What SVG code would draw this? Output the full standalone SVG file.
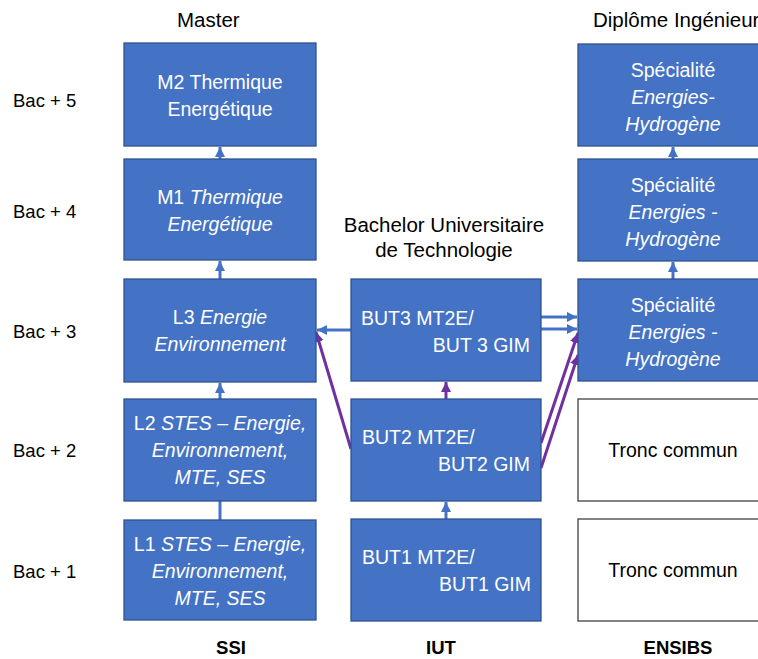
<svg xmlns="http://www.w3.org/2000/svg" width="758" height="659" viewBox="0 0 758 659">
<style>
  text { font-family: "Liberation Sans", Arial, sans-serif; }
  .box { fill: #4472C4; stroke: #2F528F; stroke-width: 1.3; }
  .wbox { fill: #FFFFFF; stroke: #404040; stroke-width: 1.3; }
  .bt { fill: #FFFFFF; font-size: 19.5px; }
  .bc { text-anchor: middle; }
  .it { font-style: italic; }
  .lbl { fill: #000000; font-size: 18.5px; }
  .hdr { fill: #000000; font-size: 20.5px; }
  .foot { fill: #000000; font-size: 18.5px; font-weight: bold; text-anchor: middle; }
  .blue { stroke: #4472C4; stroke-width: 3; fill: none; }
  .purple { stroke: #7030A0; stroke-width: 3; fill: none; }
</style>
<defs>
  <marker id="ab" markerUnits="userSpaceOnUse" markerWidth="12" markerHeight="12" refX="10" refY="6" orient="auto">
    <path d="M0,1 L10,6 L0,11 Z" fill="#4472C4"/>
  </marker>
  <marker id="ap" markerUnits="userSpaceOnUse" markerWidth="12" markerHeight="12" refX="10" refY="6" orient="auto">
    <path d="M0,1 L10,6 L0,11 Z" fill="#7030A0"/>
  </marker>
</defs>
<rect width="758" height="659" fill="#FFFFFF"/>

<g id="labels">
  <text class="lbl" x="13" y="107">Bac + 5</text>
  <text class="lbl" x="13" y="218">Bac + 4</text>
  <text class="lbl" x="13" y="338">Bac + 3</text>
  <text class="lbl" x="13" y="457">Bac + 2</text>
  <text class="lbl" x="13" y="578">Bac + 1</text>
  <text class="hdr" x="177" y="27">Master</text>
  <text class="hdr" x="444" y="232" text-anchor="middle">Bachelor Universitaire</text>
  <text class="hdr" x="444" y="257" text-anchor="middle">de Technologie</text>
  <text class="hdr" x="593" y="27">Diplôme Ingénieur</text>
  <text class="foot" x="231" y="654">SSI</text>
  <text class="foot" x="441" y="654">IUT</text>
  <text class="foot" x="678" y="654">ENSIBS</text>
</g>

<g id="connectors">
  <line class="blue" x1="220" y1="159" x2="220" y2="147" marker-end="url(#ab)"/>
  <line class="blue" x1="220" y1="279" x2="220" y2="261" marker-end="url(#ab)"/>
  <line class="blue" x1="220" y1="399" x2="220" y2="383" marker-end="url(#ab)"/>
  <line class="blue" x1="220" y1="520" x2="220" y2="501"/>
  <line class="blue" x1="351" y1="330" x2="317" y2="330" marker-end="url(#ab)"/>
  <line class="blue" x1="541" y1="317" x2="577" y2="317" marker-end="url(#ab)"/>
  <line class="blue" x1="541" y1="329" x2="577" y2="329" marker-end="url(#ab)"/>
  <line class="blue" x1="446" y1="519" x2="446" y2="502" marker-end="url(#ab)"/>
  <line class="blue" x1="673" y1="279" x2="673" y2="262" marker-end="url(#ab)"/>
  <line class="blue" x1="673" y1="159" x2="673" y2="147" marker-end="url(#ab)"/>
  <line class="purple" x1="446" y1="399" x2="446" y2="382" marker-end="url(#ap)"/>
  <line class="purple" x1="351" y1="449" x2="316" y2="332" marker-end="url(#ap)"/>
  <line class="purple" x1="541" y1="443" x2="578" y2="333" marker-end="url(#ap)"/>
  <line class="purple" x1="541" y1="468" x2="578" y2="355" marker-end="url(#ap)"/>
</g>

<g id="m2">
  <rect class="box" x="124" y="43" width="192" height="103"/>
  <text class="bt bc" x="220" y="89">M2 Thermique</text>
  <text class="bt bc" x="220" y="116">Energétique</text>
</g>
<g id="m1">
  <rect class="box" x="124" y="159" width="192" height="101"/>
  <text class="bt bc" x="220" y="204">M1 <tspan class="it">Thermique</tspan></text>
  <text class="bt bc it" x="220" y="231">Energétique</text>
</g>
<g id="l3">
  <rect class="box" x="124" y="279" width="192" height="103"/>
  <text class="bt bc" x="220" y="324">L3 <tspan class="it">Energie</tspan></text>
  <text class="bt bc it" x="220" y="351">Environnement</text>
</g>
<g id="l2">
  <rect class="box" x="124" y="399" width="192" height="102"/>
  <text class="bt bc" x="220" y="430">L2 <tspan class="it">STES – Energie,</tspan></text>
  <text class="bt bc it" x="220" y="457">Environnement,</text>
  <text class="bt bc it" x="220" y="484">MTE, SES</text>
</g>
<g id="l1">
  <rect class="box" x="124" y="520" width="192" height="100"/>
  <text class="bt bc" x="220" y="551">L1 <tspan class="it">STES – Energie,</tspan></text>
  <text class="bt bc it" x="220" y="578">Environnement,</text>
  <text class="bt bc it" x="220" y="605">MTE, SES</text>
</g>

<g id="but3">
  <rect class="box" x="351" y="279" width="190" height="102"/>
  <text class="bt" x="361" y="325">BUT3 MT2E/</text>
  <text class="bt" x="530" y="352" text-anchor="end">BUT 3 GIM</text>
</g>
<g id="but2">
  <rect class="box" x="351" y="399" width="190" height="102"/>
  <text class="bt" x="362" y="444">BUT2 MT2E/</text>
  <text class="bt" x="530" y="471" text-anchor="end">BUT2 GIM</text>
</g>
<g id="but1">
  <rect class="box" x="351" y="519" width="190" height="102"/>
  <text class="bt" x="362" y="564">BUT1 MT2E/</text>
  <text class="bt" x="531" y="591" text-anchor="end">BUT1 GIM</text>
</g>

<g id="ing5">
  <rect class="box" x="578" y="44" width="200" height="102"/>
  <text class="bt bc" x="673" y="77">Spécialité</text>
  <text class="bt bc it" x="673" y="104">Energies-</text>
  <text class="bt bc it" x="673" y="131">Hydrogène</text>
</g>
<g id="ing4">
  <rect class="box" x="578" y="159" width="200" height="102"/>
  <text class="bt bc" x="673" y="192">Spécialité</text>
  <text class="bt bc it" x="673" y="219">Energies -</text>
  <text class="bt bc it" x="673" y="246">Hydrogène</text>
</g>
<g id="ing3">
  <rect class="box" x="578" y="279" width="200" height="102"/>
  <text class="bt bc" x="673" y="312">Spécialité</text>
  <text class="bt bc it" x="673" y="339">Energies -</text>
  <text class="bt bc it" x="673" y="366">Hydrogène</text>
</g>
<g id="tc2">
  <rect class="wbox" x="578" y="399" width="200" height="102"/>
  <text class="bt bc" x="673" y="457" style="fill:#000000">Tronc commun</text>
</g>
<g id="tc1">
  <rect class="wbox" x="578" y="519" width="200" height="102"/>
  <text class="bt bc" x="673" y="577" style="fill:#000000">Tronc commun</text>
</g>
</svg>
